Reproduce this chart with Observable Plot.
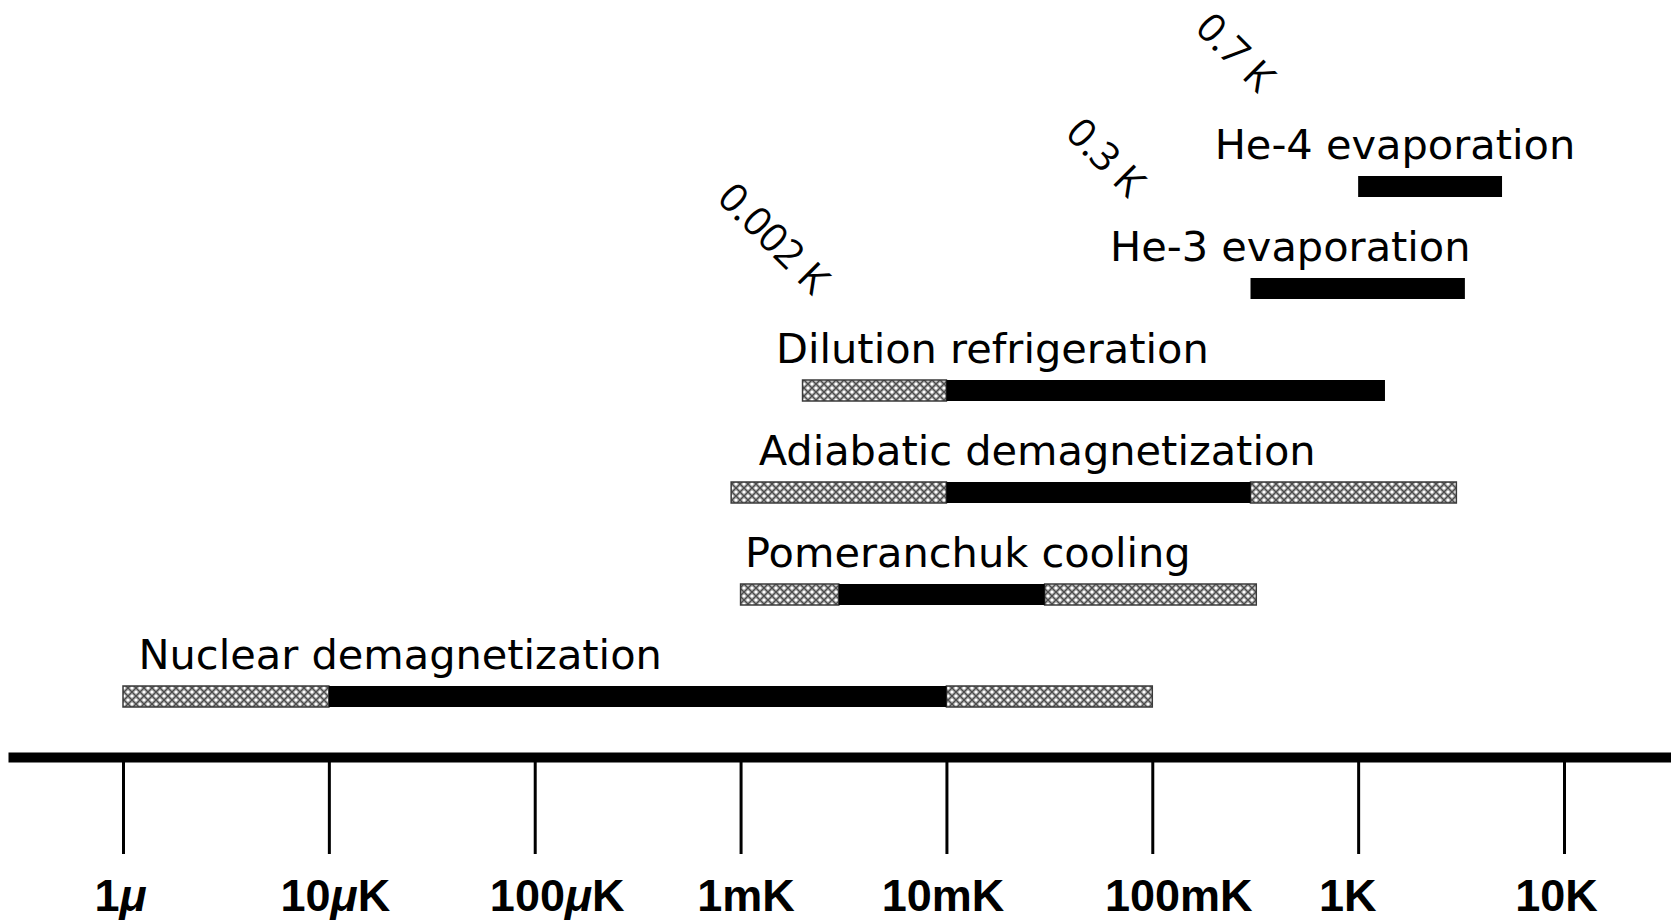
<!DOCTYPE html>
<html>
<head>
<meta charset="utf-8">
<script src="https://cdn.jsdelivr.net/npm/d3@7"></script>
<script src="https://cdn.jsdelivr.net/npm/@observablehq/plot@0.6"></script>
<style>
  html, body { margin: 0; padding: 0; background: #fff; }
</style>
</head>
<body>
<script>
// Cooling methods, top row first
const methods = [
  "He-4 evaporation",
  "He-3 evaporation",
  "Dilution refrigeration",
  "Adiabatic demagnetization",
  "Pomeranchuk cooling",
  "Nuclear demagnetization"
];
// Full reachable temperature span of each method (K)
const fullLow  = [1,   0.3,  0.002, 0.0009, 0.001, 1e-6];
const fullHigh = [5,   3.3,  1.35,  3,      0.32,  0.1];
// Routine working span (K), drawn solid
const coreLow  = [1,   0.3,  0.01,  0.01,   0.003, 1e-5];
const coreHigh = [5,   3.3,  1.35,  0.3,    0.03,  0.01];

// Temperature axis
const tempTicks  = [1e-6, 1e-5, 1e-4, 1e-3, 1e-2, 1e-1, 1, 10];
const tickLabels = ["1μ", "10μK", "100μK", "1mK", "10mK", "100mK", "1K", "10K"];

// Lowest-temperature notes
const noteValues = [0.002, 0.3, 0.7];
const noteRows   = ["Dilution refrigeration", "He-3 evaporation", "He-4 evaporation"];

// Layout offsets (px)
const labelDx = [-144, -141, -27, 27, 4, 15];
const noteDx  = [-30, -146, -92];
const noteDy  = [-152, -131, -134];
const tickDx  = [-3, 6, 22, 5, -4, 26, -11, -8];

// Segment tables built from the arrays above
const solid = methods.map((m, i) => ({method: m, lo: coreLow[i], hi: coreHigh[i]}));
const hatched = [];
methods.forEach((m, i) => {
  if (fullLow[i] < coreLow[i]) hatched.push({method: m, lo: fullLow[i], hi: coreLow[i]});
  if (fullHigh[i] > coreHigh[i]) hatched.push({method: m, lo: coreHigh[i], hi: fullHigh[i]});
});
const starts = methods.map((m, i) => ({method: m, t: fullLow[i]}));
const notes = noteValues.map((v, i) => ({method: noteRows[i], t: v, text: `${v} K`}));

const labelFont = "'DejaVu Sans', Verdana, sans-serif";
const noteFont = "'Open Sans', 'Noto Sans', Lato, sans-serif";

const plot = Plot.plot({
  width: 1671,
  height: 922,
  marginTop: 0,
  marginLeft: 13,
  marginRight: 0,
  marginBottom: 165,
  style: {background: "white", color: "black", overflow: "visible"},
  x: {type: "log", domain: [1e-6, 10], range: [123, 1564]},
  y: {type: "band", domain: methods, range: [173.5, 708.5], paddingInner: 0.7957, paddingOuter: 0, axis: null},
  marks: [
    Plot.frame({anchor: "bottom", strokeWidth: 10}),
    Plot.axisX({
      ticks: tempTicks,
      tickFormat: (d) => tickLabels[tempTicks.indexOf(d)],
      anchor: "bottom",
      label: null,
      tickSize: 97,
      tickPadding: 25,
      strokeWidth: 3,
      fontSize: 45,
      fontWeight: "bold",
      fontFamily: "'Liberation Sans', Arial, sans-serif"
    }),
    Plot.barX(hatched, {x1: "lo", x2: "hi", y: "method", fill: "url(#hatch)", stroke: "#3a3a3a", strokeWidth: 1.5}),
    Plot.barX(solid, {x1: "lo", x2: "hi", y: "method", fill: "black"}),
    ...starts.map((d, i) => Plot.text([d], {
      x: "t", y: "method", text: "method",
      dx: labelDx[i], dy: -28,
      textAnchor: "start", lineAnchor: "bottom",
      fontSize: 41.5, fontFamily: labelFont, fill: "black"
    })),
    ...notes.map((d, i) => Plot.text([d], {
      x: "t", y: "method", text: "text",
      dx: noteDx[i], dy: noteDy[i], rotate: 45,
      textAnchor: "middle", lineAnchor: "middle",
      fontSize: 40, fontWeight: 400, fontFamily: noteFont, fill: "black"
    }))
  ]
});

document.body.append(plot);

// Cross-hatch fill for the extended ranges
d3.select(plot).insert("defs", ":first-child").html(`
  <pattern id="hatch" width="8" height="8" patternUnits="userSpaceOnUse">
    <rect width="8" height="8" fill="#a0a0a0"/>
    <path d="M0,0L8,8M8,0L0,8" stroke="#4a4a4a" stroke-width="1.2"/>
    <circle cx="4" cy="0" r="1.6" fill="#fff"/>
    <circle cx="0" cy="4" r="1.6" fill="#fff"/>
    <circle cx="8" cy="4" r="1.6" fill="#fff"/>
    <circle cx="4" cy="8" r="1.6" fill="#fff"/>
  </pattern>`);

// Hand-placed tick labels, with an italic micro sign
d3.select(plot).selectAll('g[aria-label="x-axis tick label"] text').each(function (_, i) {
  d3.select(this).attr("dx", tickDx[i] ?? 0);
  const s = this.textContent;
  if (!s.includes("μ") || this.querySelector("tspan")) return;
  this.textContent = "";
  const parts = s.split("μ");
  parts.forEach((p, k) => {
    if (p) d3.select(this).append("tspan").text(p);
    if (k < parts.length - 1) d3.select(this).append("tspan").attr("font-style", "italic").text("μ");
  });
});
</script>
</body>
</html>
